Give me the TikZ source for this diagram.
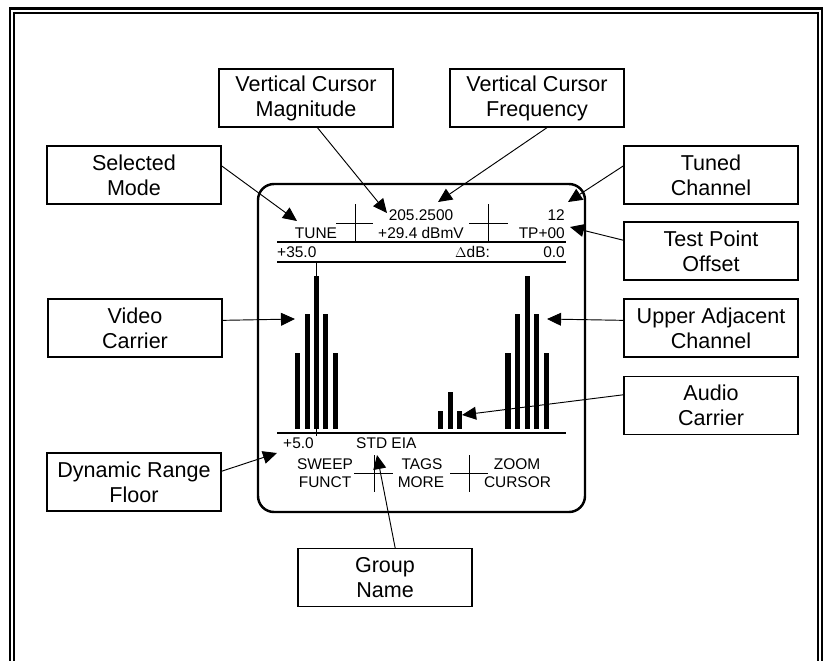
\documentclass[tikz,border=0pt]{standalone}
\usepackage{fontspec}
\setmainfont{Liberation Sans}
\usetikzlibrary{arrows.meta}
\tikzset{>={Triangle[length=12pt,width=11pt]},
  callout/.style={draw,line width=0.9pt,minimum width=5.22cm,minimum height=1.74cm,
    align=center,inner sep=0pt,font=\fontsize{18.4}{21.3}\selectfont},
  readout/.style={inner sep=0pt,font=\fontsize{13.2}{16}\selectfont},
  bar/.style={fill=black}}

\begin{document}
\begin{tikzpicture}[x=0.03cm,y=-0.03cm]
\useasboundingbox (0,0) rectangle (823,660);
\clip (0,0) rectangle (823,660);
% double frame
\draw[line width=2.3pt] (10,8.5) rectangle (822,700);
\draw[line width=2pt] (13.8,13) rectangle (818,700);
% screen
\draw[line width=2.1pt,rounded corners=0.48cm] (258,184) rectangle (585,512);
\draw[line width=1.4pt] (277,242)--(566,242);
\draw[line width=0.9pt] (277,262)--(566,262);
\draw[line width=1.9pt] (277,433)--(566,433);
\draw[line width=0.7pt] (355,204)--(355,242) (336,223)--(373,223);
\draw[line width=0.7pt] (488,204)--(488,242) (469,223)--(508,223);
\draw[line width=0.7pt] (374,455)--(374,492) (354,473)--(393,473);
\draw[line width=0.7pt] (469,455)--(469,492) (450,473)--(488,473);
% readouts
\node[readout,anchor=base] (tune) at (316,238) {TUNE};
\node[readout,anchor=base] (freqval) at (421,220) {205.2500};
\node[readout,anchor=base] (magval) at (421,238) {+29.4 dBmV};
\node[readout,anchor=base east] (chan) at (565,220) {12};
\node[readout,anchor=base east] (tp) at (565,238) {TP+00};
\node[readout,anchor=base west] (reflvl) at (277,257) {+35.0};
\node[readout,anchor=base west] (deltadb) at (455,257) {$\Delta$dB:};
\node[readout,anchor=base east] (deltaval) at (565,257) {0.0};
\node[readout,anchor=base west] (floorlvl) at (283,448) {+5.0};
\node[readout,anchor=base west] (grp) at (356,448) {STD EIA};
\node[readout,anchor=base] (sweep) at (325,469) {SWEEP};
\node[readout,anchor=base] (funct) at (325,487.5) {FUNCT};
\node[readout,anchor=base] (tags) at (422,469) {TAGS};
\node[readout,anchor=base] (more) at (421,487.5) {MORE};
\node[readout,anchor=base] (zoom) at (517,469) {ZOOM};
\node[readout,anchor=base] (cursor) at (517.5,487.5) {CURSOR};
% video carrier bars
\fill[bar] (294.5,429) rectangle (299.5,353);
\fill[bar] (304.5,429) rectangle (309.5,314);
\fill[bar] (313.5,429) rectangle (318.8,276);
\fill[bar] (322.8,429) rectangle (328,314);
\fill[bar] (332.7,429) rectangle (337.7,353);
\draw[line width=0.7pt] (316,262)--(316,436);
% audio carrier bars
\fill[bar] (438.3,429) rectangle (443.3,411);
\fill[bar] (448,429) rectangle (453,392);
\fill[bar] (456.7,429) rectangle (461.7,411);
% upper adjacent bars
\fill[bar] (505.3,429) rectangle (510.5,353);
\fill[bar] (515,429) rectangle (520,314);
\fill[bar] (524.7,429) rectangle (530,276);
\fill[bar] (534.3,429) rectangle (539.3,314);
\fill[bar] (543.8,429) rectangle (549,353);
% callouts
\node[callout] (mode) at (134,175) {Selected\\Mode};
\node[callout] (mag) at (306,98) {Vertical Cursor\\Magnitude};
\node[callout] (freq) at (537,98) {Vertical Cursor\\Frequency};
\node[callout] (tuned) at (711,175) {Tuned\\Channel};
\node[callout] (offset) at (711,251) {Test Point\\Offset};
\node[callout] (video) at (135,328) {Video\\Carrier};
\node[callout] (upper) at (711,328) {Upper Adjacent\\Channel};
\node[callout] (audio) at (711,405.5) {Audio\\Carrier};
\node[callout] (floor) at (134,482) {Dynamic Range\\Floor};
\node[callout] (group) at (385,577.5) {Group\\Name};
% arrow targets
\coordinate (tipmode) at (297,221);
\coordinate (tipmag) at (387,213);
\coordinate (tipfreq) at (438,202);
\coordinate (tiptuned) at (568,202);
\coordinate (tipoffset) at (570,227);
\coordinate (tipvideo) at (295,319);
\coordinate (tipupper) at (547,319);
\coordinate (tipaudio) at (462,415);
\coordinate (tipfloor) at (277,453);
\coordinate (tipgroup) at (377,455);
\draw[->,line width=0.8pt] (mode.6)--(tipmode);
\draw[->,line width=0.8pt] (mag.-69)--(tipmag);
\draw[->,line width=0.8pt] (freq.-71)--(tipfreq);
\draw[->,line width=0.8pt] (tuned.174)--(tiptuned);
\draw[->,line width=0.8pt] (offset.173)--(tipoffset);
\draw[->,line width=0.8pt] (video.5)--(tipvideo);
\draw[->,line width=0.8pt] (upper.175)--(tipupper);
\draw[->,line width=0.8pt] (audio.173)--(tipaudio);
\draw[->,line width=0.8pt] (floor.7)--(tipfloor);
\draw[->,line width=0.8pt] (group.71)--(tipgroup);
\end{tikzpicture}
\end{document}
